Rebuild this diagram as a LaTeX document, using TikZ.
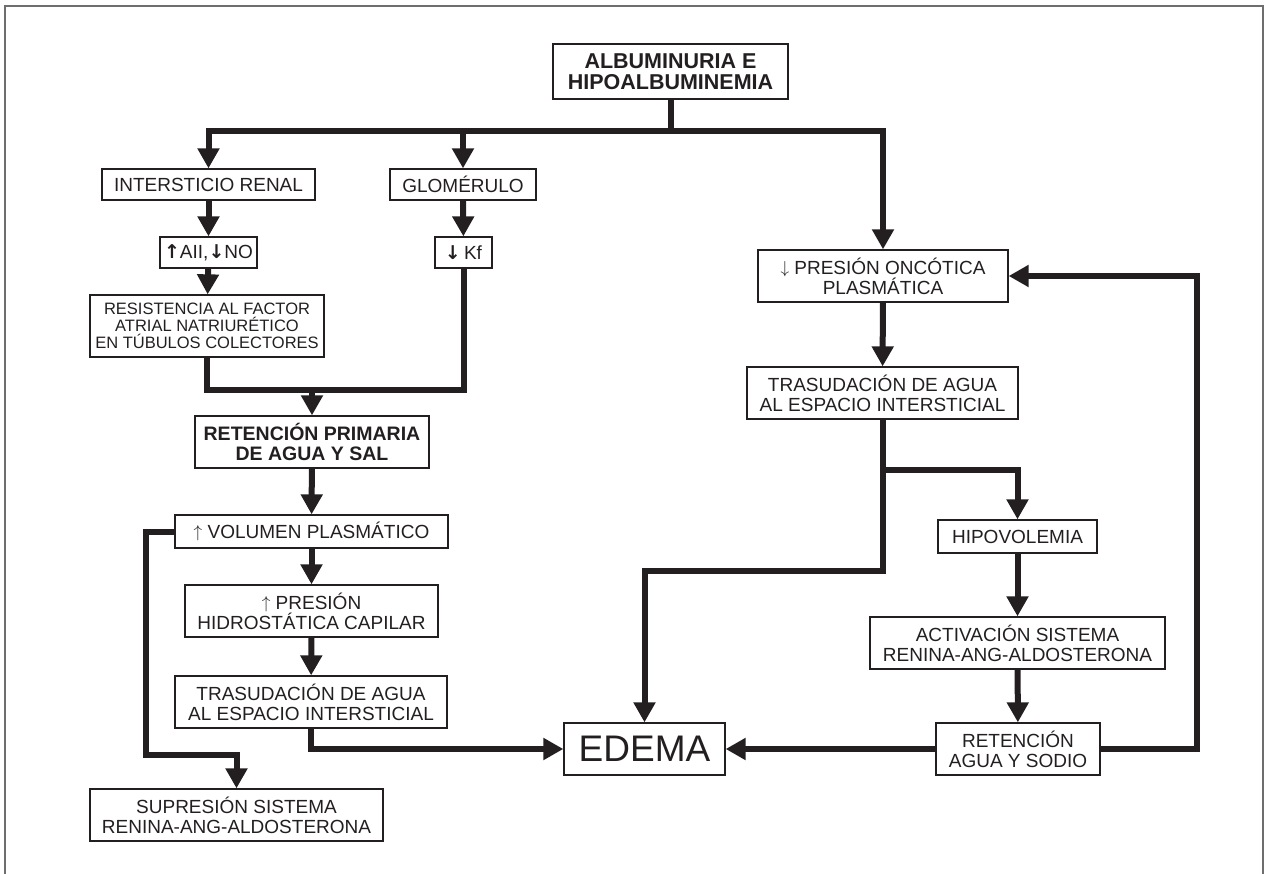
\documentclass[tikz,border=0pt]{standalone}
\usepackage{fontspec}
\setmainfont{Liberation Sans}
\newfontfamily\arrfont{DejaVu Sans}
\usetikzlibrary{arrows.meta,calc}
\definecolor{dk}{HTML}{231F20}
\definecolor{frm}{HTML}{6E6E6E}
\newcommand{\tup}{\raisebox{0.05em}{$\uparrow$}}
\newcommand{\tdown}{\raisebox{0.05em}{$\downarrow$}}
\newcommand{\bup}{{\arrfont\bfseries ↑}}
\newcommand{\bdown}{{\arrfont\bfseries ↓}}
\begin{document}
\begin{tikzpicture}[x=1pt,y=-1pt,
  box/.style={draw=dk, line width=1.3pt, rectangle, inner sep=0pt, align=center, text=dk,
    font=\fontsize{19}{20}\selectfont},
  bbox/.style={box, font=\fontsize{19.5}{20.5}\selectfont\bfseries},
  line/.style={draw=dk, line width=6pt},
  arr/.style={line, -{Triangle[length=20pt,width=21pt]}}]
\useasboundingbox (0,0) rectangle (1267,874);
\draw[frm, line width=1.5pt] (5,880) -- (5,6) -- (1263,6) -- (1263,880);

% nodes
\node[bbox, minimum width=235, minimum height=55, font=\fontsize{21.5}{21}\selectfont\bfseries] (top) at (670.5,71.5) {ALBUMINURIA E\\HIPOALBUMINEMIA};
\node[box, minimum width=213, minimum height=31] (inter) at (208.5,184.5) {INTERSTICIO RENAL};
\node[box, minimum width=146, minimum height=31] (glom) at (463,184.5) {GLOMÉRULO};
\node[box, minimum width=97, minimum height=31] (aii) at (208.5,252.5) {\bup AII,\bdown NO};
\node[box, minimum width=57, minimum height=31] (kf) at (463.5,252.5) {\bdown\,Kf};
\node[box, minimum width=234, minimum height=62, font=\fontsize{16.5}{17}\selectfont] (resist) at (207,326) {RESISTENCIA AL FACTOR\\ATRIAL NATRIURÉTICO\\EN TÚBULOS COLECTORES};
\node[bbox, minimum width=234, minimum height=52] (retprim) at (312,442) {RETENCIÓN PRIMARIA\\DE AGUA Y SAL};
\node[box, minimum width=273, minimum height=33] (vol) at (311.5,531.5) {\tup\ VOLUMEN PLASMÁTICO};
\node[box, minimum width=253, minimum height=52] (hidro) at (311.5,611) {\tup\ PRESIÓN\\HIDROSTÁTICA CAPILAR};
\node[box, minimum width=272, minimum height=52] (trasL) at (311,702) {TRASUDACIÓN DE AGUA\\AL ESPACIO INTERSTICIAL};
\node[box, minimum width=161, minimum height=52, font=\fontsize{37}{37}\selectfont] (edema) at (644.5,749) {EDEMA};
\node[box, minimum width=293, minimum height=52] (supr) at (236.5,815) {SUPRESIÓN SISTEMA\\RENINA-ANG-ALDOSTERONA};
\node[box, minimum width=250, minimum height=52] (onc) at (883,276) {\tdown\ PRESIÓN ONCÓTICA\\PLASMÁTICA};
\node[box, minimum width=271, minimum height=52] (trasR) at (882.5,393) {TRASUDACIÓN DE AGUA\\AL ESPACIO INTERSTICIAL};
\node[box, minimum width=159, minimum height=33] (hipo) at (1017.5,536.5) {HIPOVOLEMIA};
\node[box, minimum width=295, minimum height=52] (activ) at (1017.5,643) {ACTIVACIÓN SISTEMA\\RENINA-ANG-ALDOSTERONA};
\node[box, minimum width=164, minimum height=52] (retR) at (1018,749) {RETENCIÓN\\AGUA Y SODIO};

% junction coordinates
\coordinate (bar) at (670.5,131);
\coordinate (j1) at (312,390);
\coordinate (c1) at (882.5,571);
\coordinate (br) at (882.5,470);
\coordinate (lp) at (1197,276);
\coordinate (sv) at (146,755);

% connectors
\draw[line] (top.south) -- (bar);
\draw[arr] (bar) -| (inter.north);
\draw[arr] (bar) -| (onc.north);
\draw[arr] (glom.north |- bar) -- (glom.north);
\draw[arr] (inter) -- (aii);
\draw[arr] (aii) -- (resist);
\draw[arr] (glom) -- (kf);
\draw[line] (resist.south) |- (j1);
\draw[line] (kf.south) |- (j1);
\draw[arr] (j1) -- (retprim.north);
\draw[arr] (retprim) -- (vol);
\draw[arr] (vol) -- (hidro);
\draw[arr] (hidro) -- (trasL);
\draw[arr] (trasL.south) |- (edema.west);
\draw[arr] (vol.west) -| (sv) -| (supr.north);
\draw[arr] (onc) -- (trasR);
\draw[arr] (trasR.south) -- (c1) -| (edema.north);
\draw[arr] (br) -| (hipo.north);
\draw[arr] (hipo) -- (activ);
\draw[arr] (activ) -- (retR);
\draw[arr] (retR.west) -- (edema.east);
\draw[arr] (retR.east) -| (lp) -- (onc.east);
\end{tikzpicture}
\end{document}
